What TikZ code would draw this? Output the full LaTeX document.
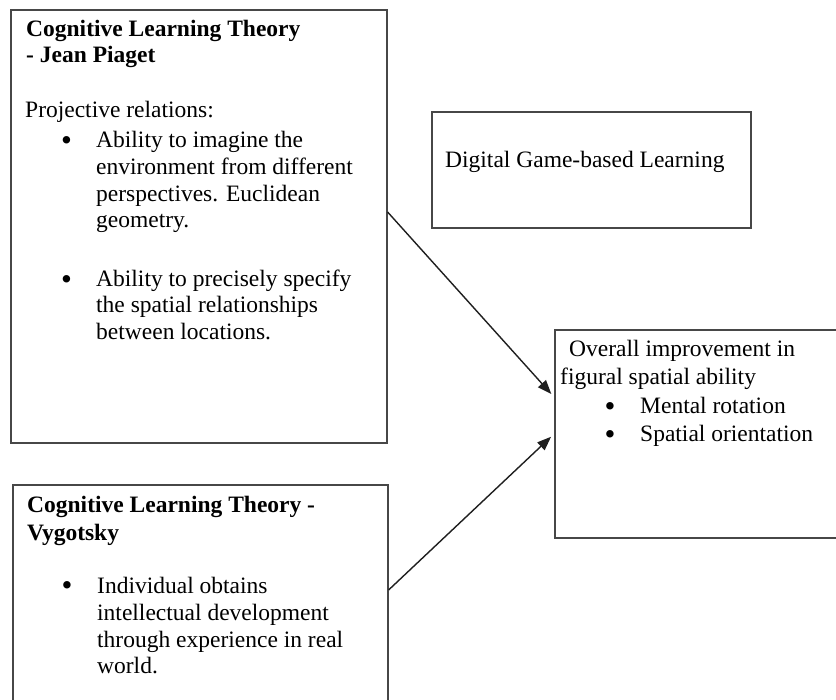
\documentclass[tikz,border=0pt]{standalone}
\usepackage{fontspec}
\setmainfont{Liberation Serif}
\usetikzlibrary{arrows.meta,calc}
\begin{document}
\begin{tikzpicture}[x=1pt,y=-1pt,
  box/.style={draw=black!72,line width=1.6pt,inner sep=0pt,anchor=north west},
  ln/.style={anchor=base west,inner sep=0pt,text=black,font=\fontsize{23.5}{27}\selectfont},
  hd/.style={ln,font=\fontsize{23.5}{27}\selectfont\bfseries},
  bul/.style={anchor=base,inner sep=0pt,text=black,font=\fontsize{31}{31}\selectfont,yshift=-2.2pt},
  conn/.style={draw=black!88,line width=1.4pt,shorten >=4pt,-{Triangle[length=14pt,width=10.5pt]}}]
\path[use as bounding box,fill=white] (0,0) rectangle (836,700);
\clip (0,0) rectangle (836,700);

% boxes
\node[box,minimum width=376pt,minimum height=433pt] (piaget) at (10,9) {};
\node[box,minimum width=319pt,minimum height=116pt] (dgbl) at (431,111) {};
\node[box,minimum width=310pt,minimum height=208pt] (outcome) at (554,329) {};
\node[box,minimum width=375pt,minimum height=250pt] (vyg) at (12,484) {};

% Piaget box text
\node[hd] (p1) at (26,37) {Cognitive Learning Theory};
\node[hd] (p2) at (26,63) {- Jean Piaget};
\node[ln] (p3) at (25,118) {Projective relations:};
\node[bul] (pb1) at (66.5,148) {•};
\node[ln] (p4) at (96,148) {Ability to imagine the};
\node[ln] (p5) at (96,175) {environment from different};
\node[ln] (p6) at (96,202) {perspectives. Euclidean};
\node[ln] (p7) at (96,228) {geometry.};
\node[bul] (pb2) at (66.5,287) {•};
\node[ln] (p8) at (96,287) {Ability to precisely specify};
\node[ln] (p9) at (96,313) {the spatial relationships};
\node[ln] (p10) at (96,340) {between locations.};

% DGBL text
\node[ln] (d1) at (445,168) {Digital Game-based Learning};

% Outcome text
\node[ln] (o1) at (569,357) {Overall improvement in};
\node[ln] (o2) at (560,385) {figural spatial ability};
\node[bul] (ob1) at (610,414) {•};
\node[ln] (o3) at (640,414) {Mental rotation};
\node[bul] (ob2) at (610,442) {•};
\node[ln] (o4) at (640,442) {Spatial orientation};

% Vygotsky text
\node[hd] (v1) at (27,513) {Cognitive Learning Theory -};
\node[hd] (v2) at (27,540) {Vygotsky};
\node[bul] (vb1) at (67,593) {•};
\node[ln] (v3) at (97,593) {Individual obtains};
\node[ln] (v4) at (97,620) {intellectual development};
\node[ln] (v5) at (97,647) {through experience in real};
\node[ln] (v6) at (97,673) {world.};

% connectors
\draw[conn] ($(piaget.north east)+(0,203)$) -- ($(outcome.north west)+(0,68)$);
\draw[conn] ($(vyg.north east)+(0,106)$) -- ($(outcome.north west)+(0,105)$);
\end{tikzpicture}
\end{document}
